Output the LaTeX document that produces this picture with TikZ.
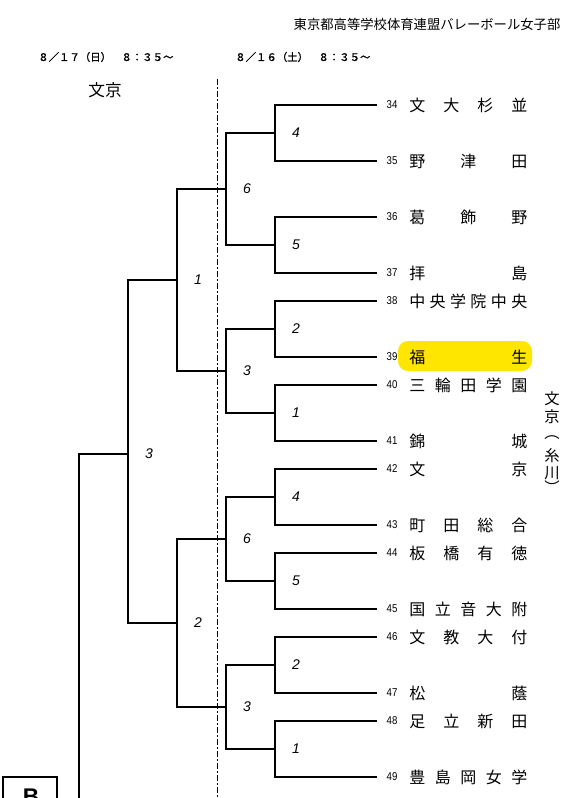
\documentclass[tikz,border=0pt]{standalone}
\usepackage{fontspec}
\newfontfamily\jp{Noto Sans CJK JP}
\newfontfamily\jpb[FakeBold=1.6]{Noto Sans CJK JP}
\newfontfamily\numf[FakeStretch=0.85]{Liberation Sans}
\newfontfamily\labf{Liberation Sans}
\definecolor{hl}{RGB}{255,230,0}
\begin{document}
\begin{tikzpicture}[x=0.75pt,y=-0.75pt,
  br/.style={draw,line width=0.8pt},
  lbl/.style={font=\labf\itshape\fontsize{10.5}{10.5}\selectfont,inner sep=0pt},
  num/.style={font=\numf\fontsize{8.5}{8.5}\selectfont,inner sep=0pt},
  nm/.style={font=\jp\fontsize{12}{12}\selectfont,anchor=west,inner sep=0pt},
  vt/.style={font=\jp\fontsize{11.5}{11.5}\selectfont,inner sep=0pt},
  dt/.style={font=\jpb\fontsize{7.8}{7.8}\selectfont,anchor=west,inner sep=0pt},
  sep/.style={draw,line width=0.7pt,dash pattern=on 4.5pt off 1.5pt on 1.5pt off 1.5pt}]
\useasboundingbox (0,0) rectangle (582,798);
% highlight
\fill[hl,rounded corners=7.5pt] (398,341) rectangle (532,371);
% headers
\node[font=\jp\fontsize{10}{10}\selectfont,inner sep=0pt] (hdr) at (427,24) {東京都高等学校体育連盟バレーボール女子部};
\node[dt] (d17) at (38,57) {８／１７（日）　８：３５～};
\node[dt] (d16) at (235,57) {８／１６（土）　８：３５～};
\node[font=\jp\fontsize{12.5}{12.5}\selectfont,inner sep=0pt] (ku) at (105,90) {文京};
% separator
\coordinate (sepT) at (217,79);
\coordinate (sepB) at (217,798);
\draw[sep] (sepT) -- (sepB);
% teams
\foreach \n/\y/\s in {
 34/105/{文\hfill 大\hfill 杉\hfill 並},
 35/161/{野\hfill 津\hfill 田},
 36/217/{葛\hfill 飾\hfill 野},
 37/273/{拝\hfill 島},
 38/301/{中\hfill 央\hfill 学\hfill 院\hfill 中\hfill 央},
 39/357/{福\hfill 生},
 40/385/{三\hfill 輪\hfill 田\hfill 学\hfill 園},
 41/441/{錦\hfill 城},
 42/469/{文\hfill 京},
 43/525/{町\hfill 田\hfill 総\hfill 合},
 44/553/{板\hfill 橋\hfill 有\hfill 徳},
 45/609/{国\hfill 立\hfill 音\hfill 大\hfill 附},
 46/637/{文\hfill 教\hfill 大\hfill 付},
 47/693/{松\hfill 蔭},
 48/721/{足\hfill 立\hfill 新\hfill 田},
 49/777/{豊\hfill 島\hfill 岡\hfill 女\hfill 学}} {
  \coordinate (t\n) at (377,\y);
  \node[num] (n\n) at (392,\y) {\n};
  \node[nm] (s\n) at (409,\y) {\makebox[88.5pt]{\s}};
}
% match points
\foreach \m/\x/\y/\l in {a1/275/133/4, a2/275/245/5, a3/275/329/2, a4/275/413/1,
  a5/275/497/4, a6/275/581/5, a7/275/665/2, a8/275/749/1,
  b1/226/189/6, b2/226/371/3, b3/226/539/6, b4/226/707/3,
  c1/177/280/1, c2/177/623/2, d1/128/454/3} {
  \coordinate (\m) at (\x,\y);
  \node[lbl] (l\m) at ([xshift=15.75pt]\m) {\l};
}
\draw[br] (t34) -| (a1) |- (t35);
\draw[br] (t36) -| (a2) |- (t37);
\draw[br] (t38) -| (a3) |- (t39);
\draw[br] (t40) -| (a4) |- (t41);
\draw[br] (t42) -| (a5) |- (t43);
\draw[br] (t44) -| (a6) |- (t45);
\draw[br] (t46) -| (a7) |- (t47);
\draw[br] (t48) -| (a8) |- (t49);
\draw[br] (a1) -| (b1) |- (a2);
\draw[br] (a3) -| (b2) |- (a4);
\draw[br] (a5) -| (b3) |- (a6);
\draw[br] (a7) -| (b4) |- (a8);
\draw[br] (b1) -| (c1) |- (b2);
\draw[br] (b3) -| (c2) |- (b4);
\draw[br] (c1) -| (d1) |- (c2);
\coordinate (dL) at (79,454);
\coordinate (dB) at (79,800);
\draw[br] (d1) -- (dL) -- (dB);
% vertical text
\node[vt] (v1) at (552,399) {文};
\node[vt] (v2) at (552,417) {京};
\node[vt] (v3) at (552,438) {︵};
\node[vt] (v4) at (552,456) {糸};
\node[vt] (v5) at (552,473) {川};
\node[vt] (v6) at (552,487) {︶};
% block box
\draw[line width=1.3pt] (3,810) |- (57,777) -- (57,810);
\node[font=\labf\bfseries\fontsize{17}{17}\selectfont,inner sep=0pt] (blk) at (31,797) {B};
\end{tikzpicture}
\end{document}
